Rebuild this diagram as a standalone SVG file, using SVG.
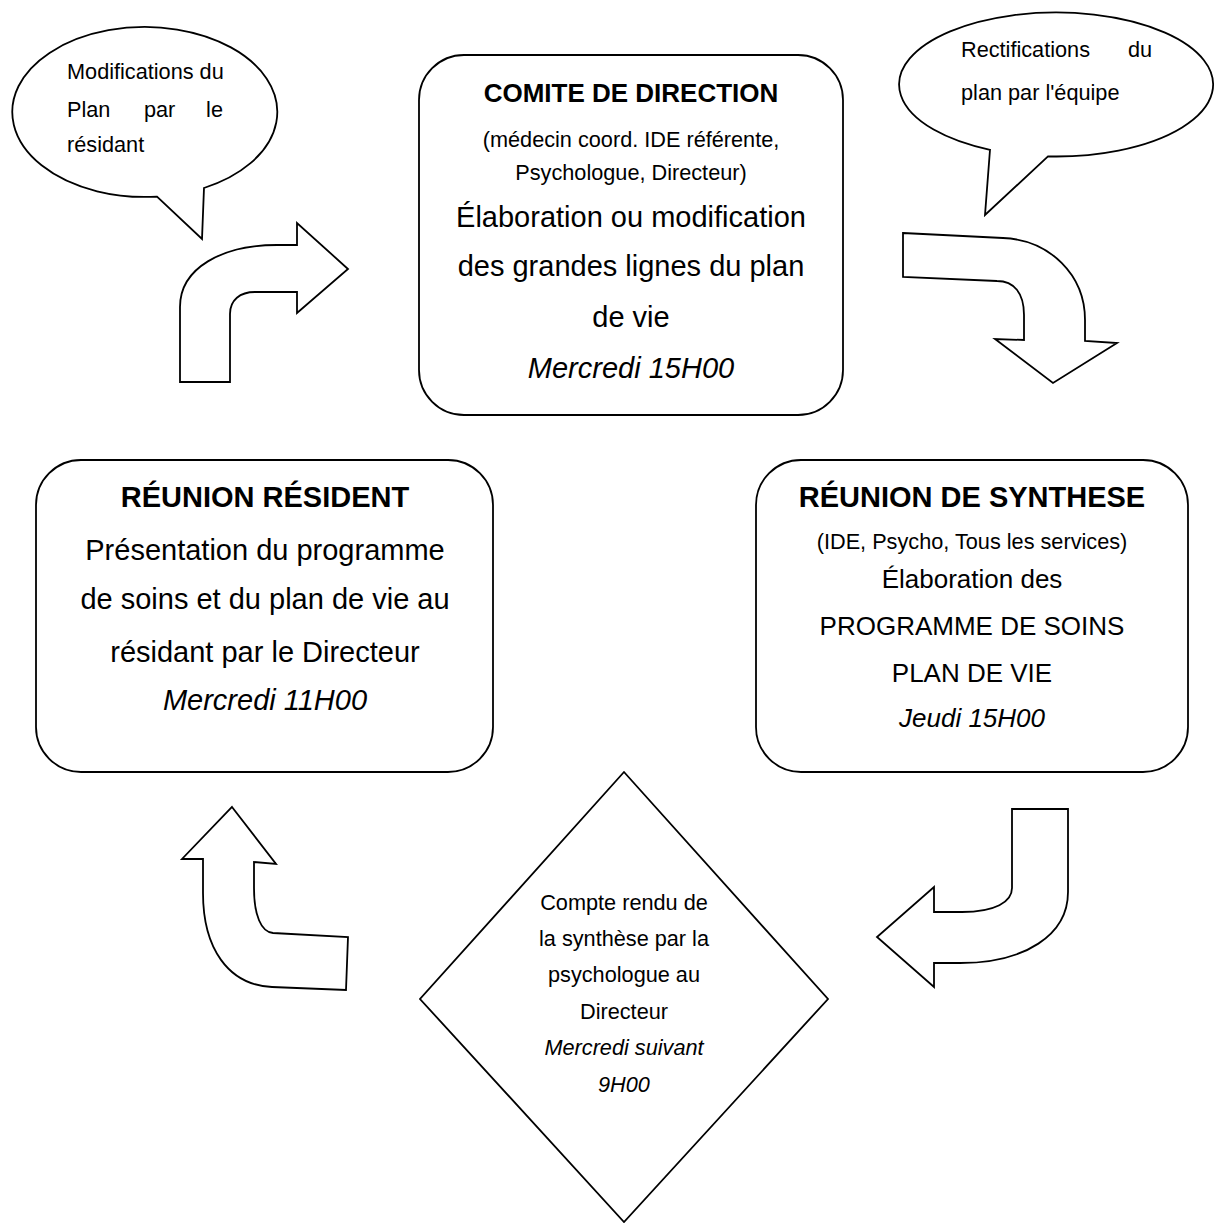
<svg xmlns="http://www.w3.org/2000/svg" width="1216" height="1223" viewBox="0 0 1216 1223">
<style>
.sh{fill:#fff;stroke:#000;stroke-width:1.8;stroke-linejoin:miter}
.t{font-family:"Liberation Sans",Arial,sans-serif;fill:#000}
.c{text-anchor:middle}
.b{font-weight:bold}
.i{font-style:italic}
.s{font-size:21.7px}
.m{font-size:26px}
.l{font-size:29px}
</style>
<rect width="1216" height="1223" fill="#fff"/>
<g id="connectors">
<path class="sh" d="M180,382 L180,307 C180,268 222,245 277,245 L297,245 L297,223 L348,269 L297,313 L297,292 L255,292 C240,292 230,300 230,314 L230,382 Z"/>
<path class="sh" d="M903,233 L1003,238 C1050,240 1085,275 1085,320 L1085,341 L1117,343 L1053,383 L995,339 L1024,340 L1024,315 C1024,293 1014,281 997,281 L903,277 Z"/>
<path class="sh" d="M1012,809 L1068,809 L1068,892 C1068,935 1025,963 960,963 L934,963 L934,987 L877,937 L934,887 L934,912 L962,912 C995,912 1012,902 1012,888 Z"/>
<path class="sh" d="M232,807 L276,864 L254,862 L254,888 C254,915 261,932 273,933 L348,937 L346,990 L272,987 C228,985 203,948 203,893 L203,859 L182,859 Z"/>
</g>
<g id="callout-resident">
<path class="sh" d="M157,196.6 L202,239 L204,188 A132.5,85 0 1 0 157,196.6 Z"/>
<text class="t s" x="67" y="79">Modifications du</text>
<text class="t s" x="67" y="117">Plan</text>
<text class="t s" x="144" y="117">par</text>
<text class="t s" x="223" y="117" text-anchor="end">le</text>
<text class="t s" x="67" y="152">résidant</text>
</g>
<g id="callout-equipe">
<path class="sh" d="M990,149.8 L985,215 L1048,156.4 A157,72 0 1 0 990,149.8 Z"/>
<text class="t s" x="961" y="57">Rectifications</text>
<text class="t s" x="1152" y="57" text-anchor="end">du</text>
<text class="t s" x="961" y="100">plan par l'équipe</text>
</g>
<g id="comite">
<rect class="sh" x="419" y="55" width="424" height="360" rx="45"/>
<text class="t c b m" x="631" y="102">COMITE DE DIRECTION</text>
<text class="t c s" x="631" y="147">(médecin coord. IDE référente,</text>
<text class="t c s" x="631" y="180">Psychologue, Directeur)</text>
<text class="t c l" x="631" y="227">Élaboration ou modification</text>
<text class="t c l" x="631" y="276">des grandes lignes du plan</text>
<text class="t c l" x="631" y="327">de vie</text>
<text class="t c l i" x="631" y="378">Mercredi 15H00</text>
</g>
<g id="reunion-resident">
<rect class="sh" x="36" y="460" width="457" height="312" rx="45"/>
<text class="t c b l" x="265" y="507">RÉUNION RÉSIDENT</text>
<text class="t c l" x="265" y="560">Présentation du programme</text>
<text class="t c l" x="265" y="609">de soins et du plan de vie au</text>
<text class="t c l" x="265" y="662">résidant par le Directeur</text>
<text class="t c l i" x="265" y="710">Mercredi 11H00</text>
</g>
<g id="reunion-synthese">
<rect class="sh" x="756" y="460" width="432" height="312" rx="45"/>
<text class="t c b l" x="972" y="507">RÉUNION DE SYNTHESE</text>
<text class="t c s" x="972" y="549">(IDE, Psycho, Tous les services)</text>
<text class="t c m" x="972" y="588">Élaboration des</text>
<text class="t c m" x="972" y="635">PROGRAMME DE SOINS</text>
<text class="t c m" x="972" y="682">PLAN DE VIE</text>
<text class="t c m i" x="972" y="727">Jeudi 15H00</text>
</g>
<g id="compte-rendu">
<polygon class="sh" points="624,772 828,999 624,1222 420,999"/>
<text class="t c s" x="624" y="910">Compte rendu de</text>
<text class="t c s" x="624" y="946">la synthèse par la</text>
<text class="t c s" x="624" y="982">psychologue au</text>
<text class="t c s" x="624" y="1019">Directeur</text>
<text class="t c s i" x="624" y="1055">Mercredi suivant</text>
<text class="t c s i" x="624" y="1092">9H00</text>
</g>
</svg>
